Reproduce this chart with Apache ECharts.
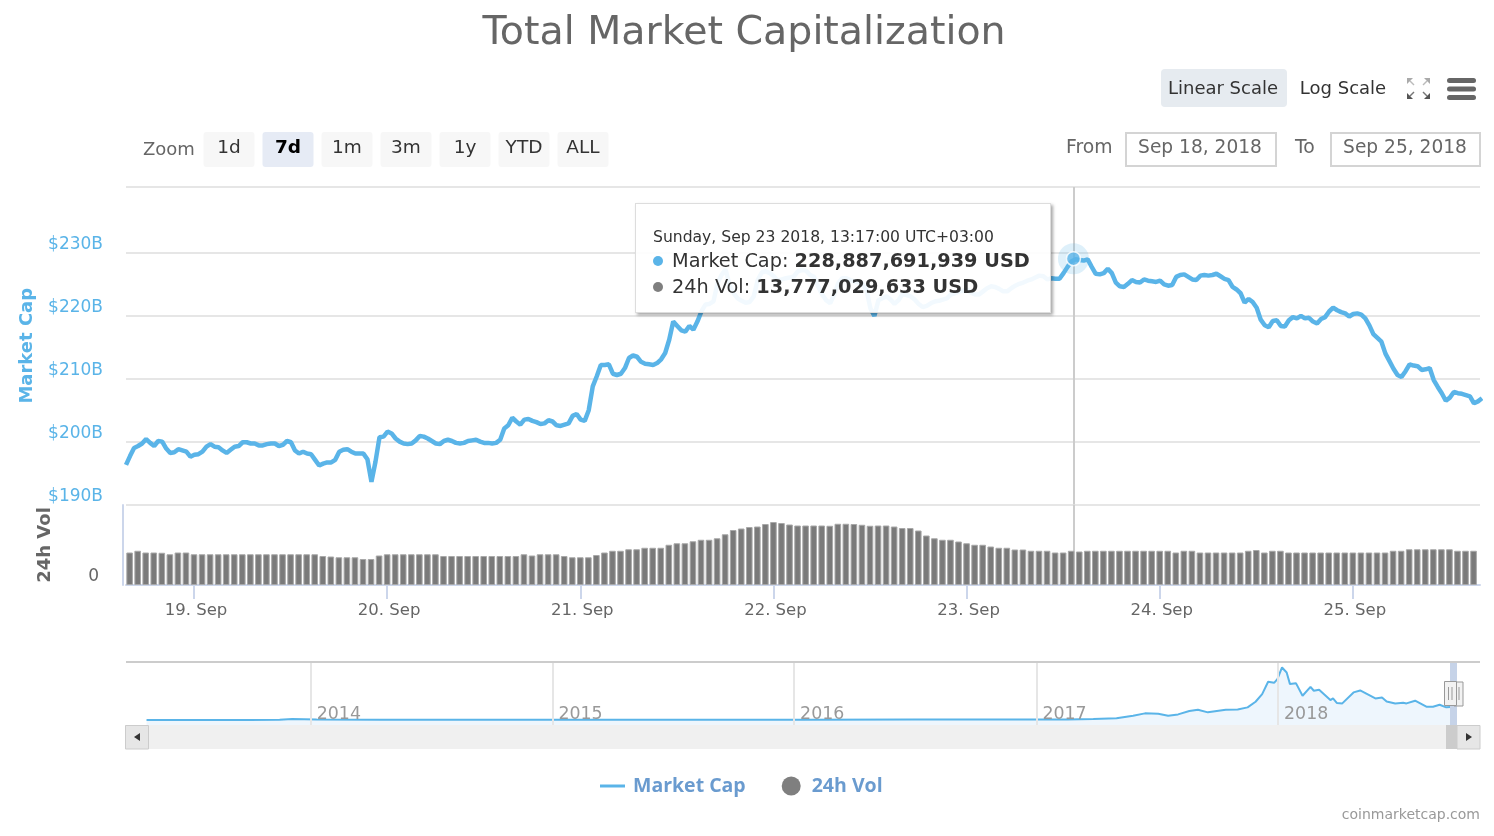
<!DOCTYPE html>
<html><head><meta charset="utf-8"><title>Total Market Capitalization</title>
<script src="https://cdn.jsdelivr.net/npm/echarts@6/dist/echarts.min.js"></script>
<style>html,body{margin:0;padding:0;background:#fff}#c{width:1494px;height:836px}</style>
</head><body><div id="c"></div>
<script>
const capStart = '2018-09-18T15:33:00Z';   // wall clock UTC+03:00, first sample
const capStepMinutes = 30;
const capValues = [
196.3,197.7,199.0,199.3,199.7,200.4,199.8,199.3,200.1,200.0,198.9,198.2,198.3,198.8,198.6,198.4,197.6,197.9,198.0,198.4,
199.2,199.6,199.2,199.1,198.6,198.2,198.7,199.2,199.3,199.9,199.9,199.7,199.7,199.4,199.4,199.6,199.7,199.7,199.3,199.5,
200.1,199.9,198.6,198.1,198.4,198.1,198.0,197.1,196.2,196.5,196.7,196.7,197.1,198.4,198.7,198.8,198.4,198.1,198.1,198.1,
197.2,193.6,196.8,200.7,200.8,201.6,201.3,200.5,200.0,199.7,199.6,199.7,200.2,200.9,200.8,200.5,200.1,199.7,199.6,200.1,
200.3,200.1,199.8,199.7,199.8,200.1,200.2,200.3,200.0,199.8,199.8,199.7,199.8,200.3,202.1,202.6,203.8,203.2,202.7,203.5,
203.6,203.3,203.1,202.8,202.9,203.4,203.2,202.6,202.5,202.7,202.9,204.1,204.4,203.5,203.3,205.0,208.8,210.4,212.2,212.2,
212.3,210.8,210.6,210.8,211.7,213.3,213.7,213.5,212.7,212.4,212.3,212.2,212.5,213.1,214.1,216.2,219.1,218.4,217.7,217.5,
218.4,217.8,219.1,220.7,221.8,221.9,222.3,225.2,226.5,227.4,224.9,223.6,222.8,222.4,222.1,222.2,223.1,225.7,226.9,227.1,
226.8,226.3,225.6,225.8,226.0,226.1,226.3,227.1,227.3,227.2,226.5,226.2,224.7,223.4,222.5,222.0,223.4,225.2,226.0,226.0,
225.7,225.5,225.3,225.1,224.2,221.2,220.0,222.5,222.8,223.1,222.6,221.9,222.5,223.5,223.3,223.1,222.6,221.9,221.4,221.6,
222.0,222.3,222.4,222.6,222.8,223.4,223.6,223.9,224.0,224.2,223.7,223.4,223.4,223.9,224.4,224.7,224.6,224.3,223.9,223.9,
224.4,224.8,225.1,225.3,225.6,225.8,226.1,226.4,226.3,225.8,226.0,225.9,225.9,226.8,227.8,228.7,229.0,228.9,228.8,229.0,
227.8,226.7,226.6,226.8,227.5,226.8,225.3,224.7,224.6,225.1,225.7,225.4,225.3,225.8,225.6,225.5,225.4,225.6,225.0,224.8,
224.9,226.2,226.5,226.6,226.2,225.8,225.7,226.4,226.5,226.4,226.5,226.7,226.3,225.9,225.7,224.6,224.2,223.6,222.1,222.7,
222.2,221.3,219.4,218.5,218.2,219.2,219.3,218.4,218.3,219.3,219.8,219.6,220.0,219.6,219.7,219.1,218.8,219.5,219.8,220.7,
221.3,220.9,220.6,220.4,219.9,220.3,220.4,220.2,219.6,218.5,217.1,216.5,215.9,214.0,212.8,211.6,210.6,210.3,211.2,212.3,
212.1,212.0,211.4,211.5,211.7,209.8,208.7,207.7,206.5,207.0,207.9,207.7,207.6,207.4,207.2,206.1,206.4,206.9
];
const volStart = '2018-09-18T16:00:00Z';
const volStepMinutes = 60;
const volValues = [
13.0,13.7,13.0,13.0,12.9,12.3,13.0,13.0,12.3,12.3,12.3,12.3,12.3,12.3,12.3,12.3,12.3,12.3,12.3,12.3,
12.3,12.3,12.3,12.3,11.6,11.4,11.1,11.1,11.1,10.4,10.4,11.8,12.3,12.3,12.3,12.3,12.3,12.3,12.3,11.6,
11.6,11.6,11.6,11.6,11.6,11.6,11.6,11.6,11.6,12.3,11.8,12.3,12.3,12.3,11.6,11.1,11.1,11.1,12.0,13.0,
13.7,13.7,14.3,14.3,14.9,14.9,14.9,16.1,16.7,16.7,17.5,18.1,18.1,18.7,20.3,22.0,22.6,23.2,23.4,24.4,
25.2,24.8,24.2,23.8,23.8,23.8,23.8,23.7,24.5,24.5,24.4,24.1,23.7,23.8,23.8,23.4,22.8,22.8,21.8,19.8,
18.7,18.1,18.1,17.4,16.7,16.1,16.1,15.4,14.9,14.9,14.2,14.2,13.7,13.7,13.7,13.0,13.0,13.7,13.4,13.7,
13.7,13.7,13.7,13.7,13.7,13.7,13.7,13.7,13.7,13.7,13.0,13.7,13.7,13.0,13.0,13.0,13.0,13.0,13.0,13.7,
14.0,13.0,13.7,13.7,13.0,13.0,13.0,13.0,13.0,13.0,13.0,13.0,13.0,13.0,13.0,13.0,13.0,13.7,13.7,14.3,
14.3,14.3,14.3,14.3,14.3,13.7,13.7,13.7
];
const dayTicks = ['2018-09-19','2018-09-20','2018-09-21','2018-09-22','2018-09-23','2018-09-24','2018-09-25'];
const dayLabels = ['19. Sep','20. Sep','21. Sep','22. Sep','23. Sep','24. Sep','25. Sep'];
const capTickValues = [190,200,210,220,230];
const navDates = ['2013-04-28','2013-10-01','2013-11-15','2013-12-04','2014-01-10','2014-04-15','2015-01-15','2016-01-15','2016-07-01',
'2017-01-01','2017-02-16','2017-03-28','2017-05-02','2017-05-27','2017-06-14','2017-07-04','2017-07-19','2017-08-03','2017-08-20','2017-09-02','2017-09-17','2017-10-14','2017-11-01','2017-11-16','2017-11-28','2017-12-08','2017-12-17','2017-12-26','2017-12-31',
'2018-01-07','2018-01-14','2018-01-19','2018-01-28','2018-02-07','2018-02-19','2018-02-24','2018-03-04','2018-03-21','2018-03-25','2018-03-31','2018-04-08','2018-04-25','2018-05-05','2018-05-28','2018-06-07','2018-06-14','2018-06-27','2018-07-09','2018-07-14','2018-07-27','2018-08-13','2018-08-23','2018-09-02','2018-09-12','2018-09-25'];
const navValues = [1.5,2,6,14,10,6,4,5,8,
8,10,15,26,68,104,99,68,88,140,161,120,161,166,198,286,406,598,582,640,
822,744,562,577,380,520,458,473,312,338,265,260,432,463,338,354,291,260,270,260,302,208,208,239,198,207];
const navYears = ['2014-01-01','2015-01-01','2016-01-01','2017-01-01','2018-01-01'];
const hoverTime = '2018-09-23T13:17:00Z';
const hoverCap = 229.1;
const tipDate = 'Sunday, Sep 23 2018, 13:17:00 UTC+03:00';
const tipCap = '228,887,691,939 USD';
const tipVol = '13,777,029,633 USD';
const zoomButtons = ['1d','7d','1m','3m','1y','YTD','ALL'];

const FONT = '"DejaVu Sans", sans-serif';
const BLUE = '#5AB4E8';
const ms = s => Date.parse(s.length === 10 ? s + 'T00:00:00Z' : s);
const capData = capValues.map((v, i) => [ms(capStart) + i * capStepMinutes * 60000, v]);
const volData = volValues.map((v, i) => [ms(volStart) + i * volStepMinutes * 60000, v]);
const navData = navValues.map((v, i) => [ms(navDates[i]), v]);
const dayMs = dayTicks.map(ms);
const yearMs = navYears.map(ms);
const xMin = ms('2018-09-18T15:33:00Z'), xMax = ms('2018-09-25T15:48:00Z');

const G = [];
const text = (t, x, y, o = {}) => G.push({type:'text', z:10, style:{text:t, x, y, font:`${o.w||'normal'} ${o.s||18}px ${FONT}`, fill:o.c||'#666', textAlign:o.a||'left', textVerticalAlign:'middle'}});
const rect = (x, y, w, h, fill, o = {}) => G.push({type:'rect', z:o.z||5, shape:{x, y, width:w, height:h, r:o.r||0}, style:{fill, stroke:o.stroke, lineWidth:o.lw||0}});
const line = (x1, y1, x2, y2, c, lw = 1, z = 6) => G.push({type:'line', z, shape:{x1, y1, x2, y2}, style:{stroke:c, lineWidth:lw}});
const poly = (pts, fill, z = 8) => G.push({type:'polygon', z, shape:{points:pts}, style:{fill}});

// toolbar
rect(1161, 69, 126, 38, '#E6EBF0', {r:4});
text('Linear Scale', 1223, 89, {c:'#333', a:'center', s:18});
text('Log Scale', 1343, 89, {c:'#333', a:'center', s:18});
[[1447,78],[1447,86.5],[1447,95]].forEach(p => rect(p[0], p[1], 29, 5, '#666', {r:2.5}));
[[1407,78,1,1],[1430,78,-1,1],[1407,99,1,-1],[1430,99,-1,-1]].forEach(([x,y,a,b]) => {
  poly([[x,y],[x+6*a,y],[x,y+6*b]], b > 0 ? '#aaa' : '#555');
  line(x+3*a, y+3*b, x+7*a, y+7*b, b > 0 ? '#bbb' : '#777', 1.5);
});
// range selector
text('Zoom', 143, 150, {s:18});
zoomButtons.forEach((b, i) => {
  const x = 203.5 + i * 59;
  rect(x, 132, 51, 35, i === 1 ? '#E6EBF5' : '#F7F7F7', {r:3});
  text(b, x + 25.5, 148, {c: i === 1 ? '#000' : '#333', w: i === 1 ? 'bold' : 'normal', a:'center', s:18.5});
});
text('From', 1066, 148, {s:18.8});
text('To', 1295, 148, {s:18.8});
rect(1126, 133, 150, 33, '#fff', {stroke:'#d4d4d4', lw:2});
rect(1331, 133, 149, 33, '#fff', {stroke:'#d4d4d4', lw:2});
text('Sep 18, 2018', 1200, 148, {a:'center', s:18.6});
text('Sep 25, 2018', 1405, 148, {a:'center', s:18.6});
// navigator chrome
line(126, 662, 1480, 662, '#cccccc', 2);
rect(125, 725, 1355, 24, '#F0F0F0', {z:3});
rect(125.5, 725.5, 23, 23.5, '#E6E6E6', {stroke:'#ccc', lw:1, z:4});
rect(1457, 725.5, 23, 23.5, '#E6E6E6', {stroke:'#ccc', lw:1, z:4});
rect(1446, 725, 11, 24, '#CCCCCC', {z:4});
poly([[140,733],[140,741],[134,737]], '#333');
poly([[1466,733],[1466,741],[1472,737]], '#333');
rect(1450, 662, 7, 63, '#C6D3E8', {z:4});
rect(1454, 682, 9, 24, '#F2F2F2', {stroke:'#999', lw:1, z:7});
rect(1444.5, 681.5, 12, 24, '#F2F2F2', {stroke:'#999', lw:1, z:8});
line(1448.5, 687, 1448.5, 700, '#999', 1, 9);
line(1452, 687, 1452, 700, '#999', 1, 9);
line(1459, 687, 1459, 700, '#999', 1, 9);
text('coinmarketcap.com', 1480, 815, {a:'right', s:14, c:'#999'});

const pointer = {show: true, status: 'show', value: ms(hoverTime), type: 'line', snap: false, z: 1, label: {show: false}, lineStyle: {color: '#CCCCCC', width: 2, type: 'solid'}};
const option = {
  animation: false,
  backgroundColor: '#fff',
  textStyle: {fontFamily: FONT},
  title: {text: 'Total Market Capitalization', left: 739, top: 9, textAlign: 'center',
    textStyle: {fontFamily: FONT, fontWeight: 'normal', fontSize: 39.5, color: '#666'}},
  legend: {left: 595, top: 771, itemWidth: 25, itemHeight: 19, itemGap: 36,
    data: [{name: 'Market Cap', icon: 'path://M0 0H25V3H0Z', itemStyle: {color: BLUE, borderWidth: 0}},
           {name: '24h Vol', icon: 'circle', itemStyle: {color: '#7F7F7F', borderWidth: 0}}],
    textStyle: {fontFamily: '"Open Sans", sans-serif', fontWeight: 'bold', fontSize: 19.5, color: '#6A9BCF', padding: [0, 0, 0, 3]}},
  tooltip: {show: true, trigger: 'item', alwaysShowContent: true, transitionDuration: 0, showDelay: 0,
    position: () => [635, 203], padding: 0, borderWidth: 0, backgroundColor: 'transparent', extraCssText: 'box-shadow:none;',
    formatter: () => `<div style="box-sizing:border-box;width:416px;height:110px;background:rgba(255,255,255,.92);border:1px solid #ddd;box-shadow:2px 2px 3px rgba(0,0,0,.35);padding:24px 0 0 17px;font-family:${FONT.replace(/"/g,"'")};color:#333;white-space:nowrap">
      <div style="font-size:15.6px;line-height:18px">${tipDate}</div>
      <div style="font-size:19.3px;line-height:26px;margin-top:2px"><span style="display:inline-block;width:10px;height:10px;border-radius:5px;background:${BLUE};margin-right:9px;vertical-align:1px"></span>Market Cap: <b>${tipCap}</b></div>
      <div style="font-size:19.3px;line-height:26px"><span style="display:inline-block;width:10px;height:10px;border-radius:5px;background:#7f7f7f;margin-right:9px;vertical-align:1px"></span>24h Vol: <b>${tipVol}</b></div></div>`},
  grid: [
    {left: 126, width: 1354, top: 187, height: 317.5},
    {left: 126, width: 1354, top: 505, height: 80},
    {left: 126, width: 1354, top: 662, height: 63}
  ],
  xAxis: [
    {type: 'value', gridIndex: 0, min: xMin, max: xMax, axisLine: {show: false}, axisTick: {show: false}, axisLabel: {show: false}, splitLine: {show: false}, axisPointer: pointer},
    {type: 'value', gridIndex: 1, min: xMin, max: xMax, axisLine: {show: true, onZero: false, lineStyle: {color: '#CCD6EB', width: 2}},
      axisTick: {show: true, length: 14, lineStyle: {color: '#CCD6EB', width: 2}, customValues: dayMs},
      axisLabel: {customValues: dayMs, margin: 17, padding: [0, 0, 0, 4], color: '#666', fontSize: 16.5, formatter: v => dayLabels[dayMs.indexOf(v)] || ''},
      splitLine: {show: false}, axisPointer: pointer},
    {type: 'value', gridIndex: 2, z: 5, min: ms('2013-03-28'), max: ms('2018-11-02'), axisLine: {show: false, onZero: false},
      axisTick: {show: false, customValues: yearMs},
      axisLabel: {customValues: yearMs, inside: true, align: 'left', margin: 2, padding: [0, 0, 0, 6], color: '#999', fontSize: 17.4, formatter: v => String(new Date(v).getUTCFullYear())},
      splitLine: {show: true, lineStyle: {color: '#E6E6E6', width: 2}}}
  ],
  yAxis: [
    {type: 'value', gridIndex: 0, min: 190, max: 240.5, name: 'Market Cap', nameLocation: 'middle', nameGap: 90, nameRotate: 90,
      nameTextStyle: {color: BLUE, fontWeight: 'bold', fontSize: 18, fontFamily: FONT},
      axisLine: {show: false}, axisTick: {show: false, customValues: [190, 200, 210, 220, 230, 240.5]},
      axisLabel: {customValues: capTickValues, color: BLUE, fontSize: 17, margin: 23, verticalAlign: 'bottom', lineHeight: 16, formatter: v => `$${v}B`},
      splitLine: {show: true, lineStyle: {color: '#E6E6E6', width: 2}}},
    {type: 'value', gridIndex: 1, min: 0, max: 32, name: '24h Vol', nameLocation: 'middle', nameGap: 69, nameRotate: 90,
      nameTextStyle: {color: '#666', fontWeight: 'bold', fontSize: 18, fontFamily: FONT},
      offset: 3, axisLine: {show: true, lineStyle: {color: '#CCD6EB', width: 2}}, axisTick: {show: false, customValues: [0]},
      axisLabel: {customValues: [0], color: '#666', fontSize: 17, margin: 24, verticalAlign: 'bottom', lineHeight: 16, formatter: v => String(v)},
      splitLine: {show: false}},
    {type: 'value', gridIndex: 2, min: -78, max: 908, show: false, splitLine: {show: false}}
  ],
  series: [
    {name: 'Market Cap', type: 'line', xAxisIndex: 0, yAxisIndex: 0, data: capData, showSymbol: false, symbol: 'none', smooth: false, clip: true, z: 3,
      color: BLUE, lineStyle: {color: BLUE, width: 4.5}},
    {name: '24h Vol', type: 'bar', xAxisIndex: 1, yAxisIndex: 1, data: volData, barWidth: 6.6, color: '#7F7F7F', itemStyle: {color: '#7A7A7A', borderColor: '#A8A8A8', borderWidth: 1}, z: 3},
    {name: 'Navigator', type: 'line', xAxisIndex: 2, yAxisIndex: 2, data: navData, showSymbol: false, symbol: 'none', z: 3, tooltip: {show: false},
      lineStyle: {color: BLUE, width: 2}, areaStyle: {color: '#EEF6FD', origin: 'start', opacity: 1}},
    {name: 'Hover halo', type: 'scatter', xAxisIndex: 0, yAxisIndex: 0, data: [[ms(hoverTime), hoverCap]], symbolSize: 31, z: 4, itemStyle: {color: 'rgba(90,180,232,0.25)'}},
    {name: 'Hover point', type: 'scatter', xAxisIndex: 0, yAxisIndex: 0, data: [[ms(hoverTime), hoverCap]], symbolSize: 14, z: 5, itemStyle: {color: BLUE, borderColor: '#fff', borderWidth: 1.5}}
  ],
  graphic: G
};
const chart = echarts.init(document.getElementById('c'), null, {renderer: 'canvas'});
chart.setOption(option);
chart.dispatchAction({type: 'showTip', seriesIndex: 4, dataIndex: 0});
</script></body></html>
